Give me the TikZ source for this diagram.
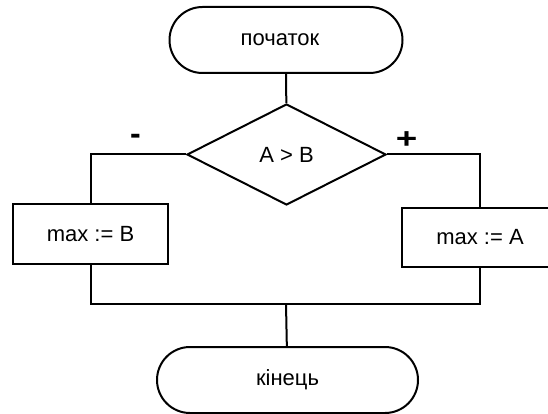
\documentclass[tikz,border=0pt]{standalone}
\usepackage{fontspec}
\setmainfont{Liberation Sans}
\usetikzlibrary{shapes.geometric}
\begin{document}
\begin{tikzpicture}[x=1pt,y=-1pt,line width=2pt,
  font=\fontsize{22}{25}\selectfont,
  terminal/.style={draw,rectangle,rounded corners=33pt,minimum height=66pt,inner sep=0pt},
  process/.style={draw,rectangle,inner sep=0pt},
  decision/.style={draw,diamond,aspect=2,inner sep=0pt,minimum width=199pt,minimum height=101pt},
  branchmark/.style={font=\fontsize{32}{34}\selectfont\bfseries,inner sep=0pt}]
\clip (0,0) rectangle (548,414);
\node[terminal,minimum width=233pt] (start) at (286,40) {\hspace*{-12pt}початок};
\node[decision] (cond) at (286.5,154.5) {A > B};
\node[process,minimum width=155pt,minimum height=60pt] (nob) at (90.5,234) {max := B};
\node[process,minimum width=156pt,minimum height=59pt] (yesb) at (480,237.5) {max := A};
\node[terminal,minimum width=261pt] (stop) at (287.5,380) {кінець};
\node[branchmark] (minus) at (135.5,139) {-};
\node[branchmark] (plus) at (406.7,140) {\scalebox{1.15}[0.9]{+}};
\coordinate (join) at (286,304);
\draw (start) -- (cond);
\draw (cond.west) -| (nob.north);
\draw (cond.east) -| (yesb.north);
\draw (nob.south) |- (join) -| (yesb.south);
\draw (join) -- (stop);
\end{tikzpicture}
\end{document}
